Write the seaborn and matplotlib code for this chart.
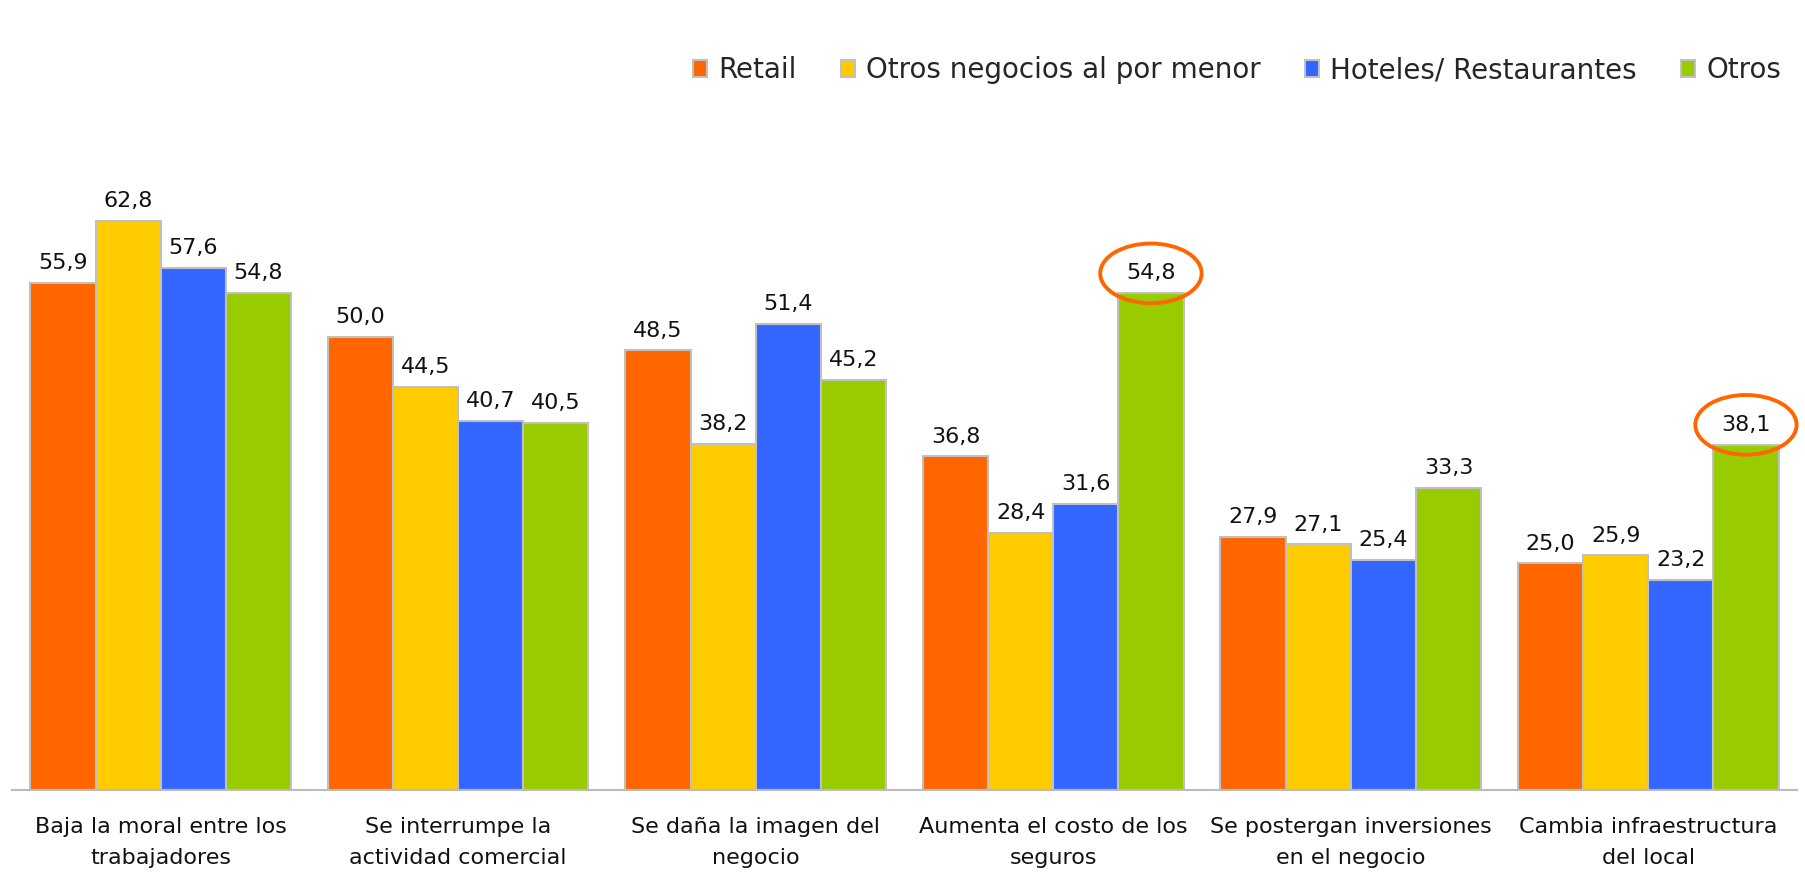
import matplotlib
matplotlib.use("Agg")
import matplotlib.pyplot as plt
import seaborn as sns
import pandas as pd

categories = [
    "Baja la moral entre los\ntrabajadores",
    "Se interrumpe la\nactividad comercial",
    "Se daña la imagen del\nnegocio",
    "Aumenta el costo de los\nseguros",
    "Se postergan inversiones\nen el negocio",
    "Cambia infraestructura\ndel local",
]
series = ["Retail", "Otros negocios al por menor", "Hoteles/ Restaurantes", "Otros"]
retail = [55.9, 50.0, 48.5, 36.8, 27.9, 25.0]
otros_menor = [62.8, 44.5, 38.2, 28.4, 27.1, 25.9]
hoteles = [57.6, 40.7, 51.4, 31.6, 25.4, 23.2]
otros = [54.8, 40.5, 45.2, 54.8, 33.3, 38.1]
colors = ["#FF6600", "#FFCC00", "#3366FF", "#99CC00"]
highlight = [("Otros", 3), ("Otros", 5)]

sns.set_theme(style="white")
plt.rcParams["font.family"] = ["DejaVu Sans"]

rows = []
for s, vals in zip(series, [retail, otros_menor, hoteles, otros]):
    for c, v in zip(categories, vals):
        rows.append({"cat": c, "serie": s, "val": v})
df = pd.DataFrame(rows)

fig = plt.figure(figsize=(18.06, 8.77), dpi=100)
ax = fig.add_axes([0.0066, 0.099, 0.9884, 0.724])

sns.barplot(data=df, x="cat", y="val", hue="serie", hue_order=series, order=categories,
            palette=colors, width=0.876, gap=0, edgecolor="#C0C0C0", linewidth=1.5,
            saturation=1, errorbar=None, ax=ax, legend=True)

for ci, cont in enumerate(ax.containers):
    s = series[ci]
    for j, bar in enumerate(cont):
        v = bar.get_height()
        txt = f"{v:.1f}".replace(".", ",")
        kw = {}
        if (s, j) in highlight:
            kw["bbox"] = dict(boxstyle="ellipse,pad=0.5", fc="none", ec="#FF6600", lw=2.8)
        ax.annotate(txt, (bar.get_x() + bar.get_width() / 2, v), xytext=(0, 7),
                    textcoords="offset points", ha="center", va="bottom",
                    fontsize=16, color="#111111", clip_on=False, **kw)

ax.set_ylim(0, 70)
ax.set_xlim(-0.5, len(categories) - 0.5)
ax.set_xlabel("")
ax.set_ylabel("")
ax.set_yticks([])
for sp in ["top", "left", "right"]:
    ax.spines[sp].set_visible(False)
ax.spines["bottom"].set_color("#BBBBBB")
ax.spines["bottom"].set_linewidth(1.5)
ax.set_xticks(range(len(categories)))
ax.set_xticklabels(categories, fontsize=16, linespacing=1.7, color="#111111")
ax.tick_params(axis="x", which="major", length=0, pad=19)
ax.set_xticks([i - 0.5 for i in range(len(categories) + 1)], minor=True)
ax.tick_params(axis="x", which="minor", length=9, width=1.5, color="#BBBBBB", direction="out")
ax.patch.set_alpha(0)

leg = ax.legend(loc="center right", bbox_to_anchor=(0.991, 1.134), ncol=4, frameon=False,
                fontsize=20, handlelength=0.5, handleheight=0.6, handletextpad=0.4,
                columnspacing=1.6, borderaxespad=0, borderpad=0)
for h in leg.legend_handles:
    h.set_edgecolor("#C0C0C0")

fig.savefig("out.png", dpi=100, facecolor="white")
